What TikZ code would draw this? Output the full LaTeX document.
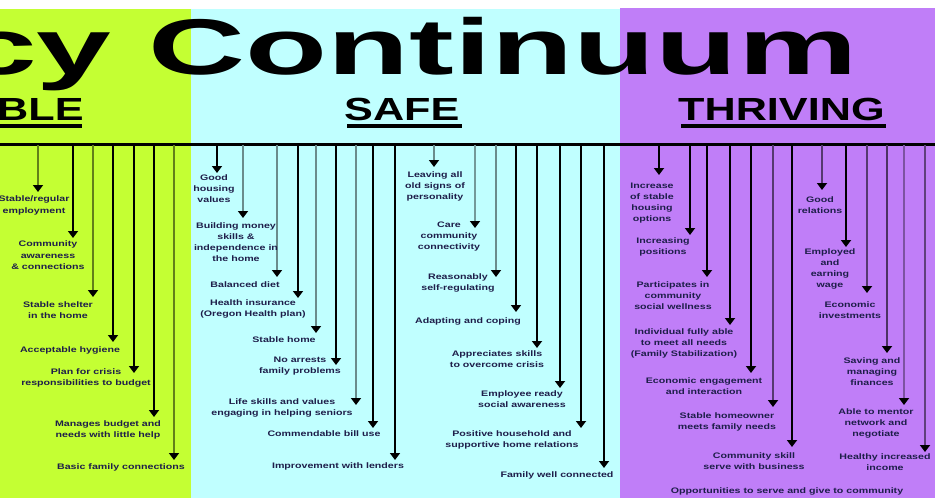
\documentclass[tikz,border=0pt]{standalone}
\usepackage{fontspec}
\setmainfont{Liberation Sans}
\newfontfamily\titlefont{Liberation Sans}[FakeStretch=1.70]
\newfontfamily\subfont{Liberation Sans}[FakeStretch=1.35]
\newfontfamily\bodyfont{Liberation Sans}[FakeStretch=1.33]
\usetikzlibrary{arrows.meta}
\definecolor{vulbg}{HTML}{C4FF33}
\definecolor{safebg}{HTML}{C0FFFF}
\definecolor{thrbg}{HTML}{C07EF8}
\definecolor{txt}{HTML}{1E1E4A}
\newcommand\myarr[3]{\coordinate (a#1) at (#1,145); \coordinate (b#1) at (#1,#2); \draw[#3] (a#1) -- (b#1);}
\begin{document}
\begin{tikzpicture}[x=1pt,y=-1pt,
  lbl/.style={font=\bodyfont\bfseries\fontsize{8}{11}\selectfont, align=center, inner sep=0pt, anchor=north, text=txt},
  sub/.style={font=\subfont\bfseries\fontsize{32}{32}\selectfont, inner sep=0pt, anchor=base west},
  uline/.style={line width=4pt, draw=black},
  dark/.style={draw=black, line width=2.6pt, -{Triangle[length=7pt,width=10pt]}},
  faint/.style={draw=#1, line width=2.4pt, -{Triangle[length=7pt,width=10pt,color=black]}}]
\useasboundingbox (0,0) rectangle (935,498);
\clip (0,0) rectangle (935,498);
\fill[white] (0,0) rectangle (935,498);
\fill[vulbg] (0,9) rectangle (191,498);
\fill[safebg] (191,9) rectangle (620,498);
\fill[thrbg] (620,8) rectangle (935,498);
% title
\node[font=\titlefont\bfseries\fontsize{79}{79}\selectfont, inner sep=0pt, anchor=base west] (title) at (-38,74) {cy Continuum};
\node[sub] (hv) at (-3,120) {BLE};
\node[sub] (hs) at (344,120) {SAFE};
\node[sub] (ht) at (678,120) {THRIVING};
\draw[uline] (0,126) -- (82,126);
\draw[uline] (347,126) -- (462,126);
\draw[uline] (681,126) -- (886,126);
\coordinate (hl) at (0,144.5); \coordinate (hr) at (935,144.5);
\draw[line width=2.5pt] (hl) -- (hr);
% arrows vulnerable
\myarr{38}{192}{faint=black!50!vulbg}
\myarr{73}{238}{dark}
\myarr{93}{297}{faint=black!50!vulbg}
\myarr{113}{342}{dark}
\myarr{134}{373}{dark}
\myarr{154}{417}{dark}
\myarr{174}{460}{faint=black!50!vulbg}
% arrows safe
\myarr{217}{173}{dark}
\myarr{243}{218}{faint=black!45!safebg}
\myarr{277}{277}{faint=black!45!safebg}
\myarr{298}{298}{dark}
\myarr{316}{333}{faint=black!45!safebg}
\myarr{336}{365}{dark}
\myarr{356}{405}{faint=black!45!safebg}
\myarr{373}{428}{dark}
\myarr{395}{460}{dark}
\myarr{434}{167}{faint=black!45!safebg}
\myarr{475}{228}{faint=black!40!safebg}
\myarr{496}{277}{faint=black!45!safebg}
\myarr{516}{312}{dark}
\myarr{537}{348}{dark}
\myarr{560}{388}{dark}
\myarr{581}{428}{dark}
\myarr{604}{468}{dark}
% arrows thriving
\myarr{659}{175}{dark}
\myarr{690}{235}{dark}
\myarr{707}{277}{dark}
\myarr{730}{325}{dark}
\myarr{751}{373}{dark}
\myarr{773}{407}{faint=black!55!thrbg}
\myarr{792}{447}{dark}
\myarr{822}{190}{faint=black!55!thrbg}
\myarr{846}{247}{dark}
\myarr{867}{293}{faint=black!55!thrbg}
\myarr{887}{353}{faint=black!60!thrbg}
\myarr{904}{405}{faint=black!35!thrbg}
\myarr{925}{452}{faint=black!50!thrbg}
% labels vulnerable
\node[lbl] (v1) at (34,196) {Stable/regular\\employment};
\node[lbl] (v2) at (48,241) {Community\\awareness\\\& connections};
\node[lbl] (v3) at (58,301) {Stable shelter\\in the home};
\node[lbl] (v4) at (70,346) {Acceptable hygiene};
\node[lbl] (v5) at (86,368) {Plan for crisis\\responsibilities to budget};
\node[lbl] (v6) at (108,420) {Manages budget and\\needs with little help};
\node[lbl] (v7) at (121,463) {Basic family connections};
% labels safe
\node[lbl] (s1) at (214,175) {Good\\housing\\values};
\node[lbl] (s2) at (236,223) {Building money\\skills \&\\independence in\\the home};
\node[lbl] (s3) at (245,281) {Balanced diet};
\node[lbl] (s4) at (253,299) {Health insurance\\(Oregon Health plan)};
\node[lbl] (s5) at (284,336) {Stable home};
\node[lbl] (s6) at (300,357) {No arrests\\family problems};
\node[lbl] (s7) at (282,398) {Life skills and values\\engaging in helping seniors};
\node[lbl] (s8) at (324,430) {Commendable bill use};
\node[lbl] (s9) at (338,462) {Improvement with lenders};
\node[lbl] (s10) at (435,172) {Leaving all\\old signs of\\personality};
\node[lbl] (s11) at (449,222) {Care\\community\\connectivity};
\node[lbl] (s12) at (458,273) {Reasonably\\self-regulating};
\node[lbl] (s13) at (468,317) {Adapting and coping};
\node[lbl] (s14) at (497,350) {Appreciates skills\\to overcome crisis};
\node[lbl] (s15) at (522,390) {Employee ready\\social awareness};
\node[lbl] (s16) at (512,430) {Positive household and\\supportive home relations};
\node[lbl] (s17) at (557,471) {Family well connected};
% labels thriving
\node[lbl] (t1) at (652,183) {Increase\\of stable\\housing\\options};
\node[lbl] (t2) at (663,237) {Increasing\\positions};
\node[lbl] (t3) at (673,281) {Participates in\\community\\social wellness};
\node[lbl] (t4) at (684,328) {Individual fully able\\to meet all needs\\(Family Stabilization)};
\node[lbl] (t5) at (704,377) {Economic engagement\\and interaction};
\node[lbl] (t6) at (727,412) {Stable homeowner\\meets family needs};
\node[lbl] (t7) at (754,452) {Community skill\\serve with business};
\node[lbl] (t8) at (787,487) {Opportunities to serve and give to community};
\node[lbl] (t9) at (820,197) {Good\\relations};
\node[lbl] (t10) at (830,248) {Employed\\and\\earning\\wage};
\node[lbl] (t11) at (850,301) {Economic\\investments};
\node[lbl] (t12) at (872,357) {Saving and\\managing\\finances};
\node[lbl] (t13) at (876,408) {Able to mentor\\network and\\negotiate};
\node[lbl] (t14) at (885,453) {Healthy increased\\income};
\end{tikzpicture}
\end{document}
